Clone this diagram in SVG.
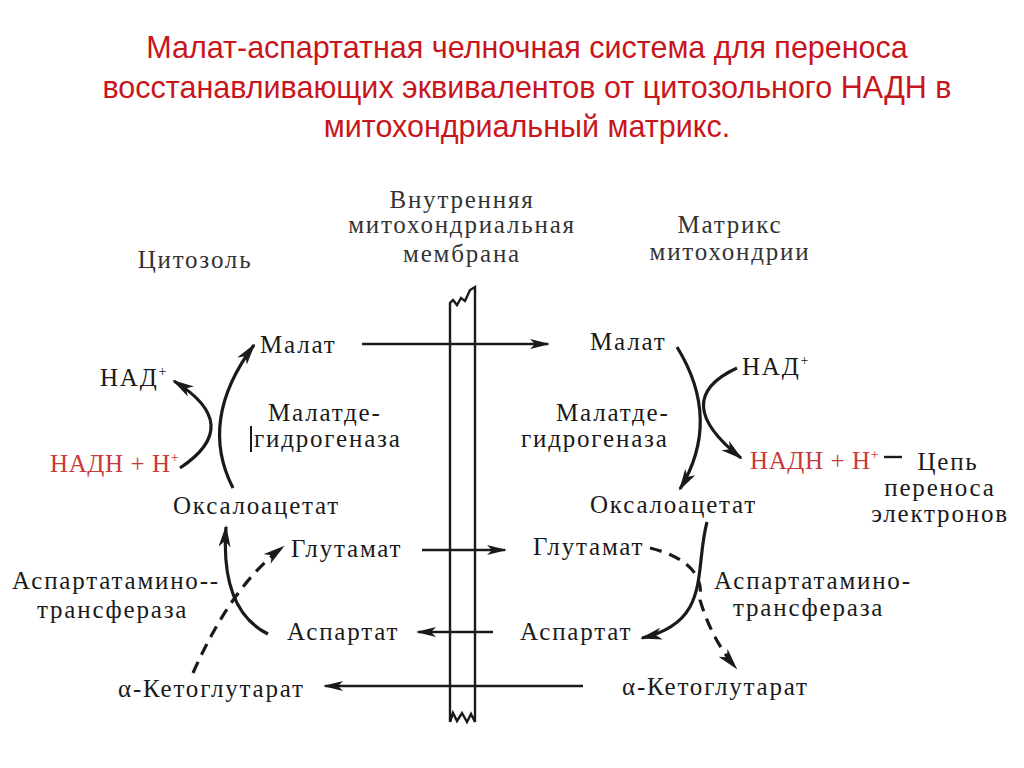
<svg xmlns="http://www.w3.org/2000/svg" width="1024" height="768" viewBox="0 0 1024 768">
<defs>
<style>
.title{font-family:"Liberation Sans",Arial,sans-serif;font-size:30.5px;fill:#c8161d;text-anchor:middle}
.t{font-family:"Liberation Serif","Times New Roman",serif;font-size:25px;letter-spacing:1.8px;fill:#1a1a1a}
.h{fill:#333333}
.red{fill:#c83a3a;letter-spacing:0.6px}
.ln{fill:none;stroke:#1a1a1a;stroke-width:2.4}
.cv{fill:none;stroke:#1a1a1a;stroke-width:3.2}
.dash{stroke-dasharray:12 8}
.mem{fill:none;stroke:#1a1a1a;stroke-width:2.4;stroke-linejoin:miter}
</style>
<marker id="ah" viewBox="0 0 20 10" refX="18" refY="5" markerWidth="20" markerHeight="10" markerUnits="userSpaceOnUse" orient="auto">
<path d="M0,0 L20,5 L0,10 L5,5 Z" fill="#1a1a1a"/>
</marker>
<marker id="ah2" viewBox="0 0 22 12" refX="20" refY="6" markerWidth="22" markerHeight="12" markerUnits="userSpaceOnUse" orient="auto">
<path d="M0,0 L22,6 L0,12 L6,6 Z" fill="#1a1a1a"/>
</marker>
</defs>
<rect width="1024" height="768" fill="#ffffff"/>
<g id="title">
<text class="title" x="527" y="58">Малат-аспартатная челночная система для переноса</text>
<text class="title" x="527" y="98">восстанавливающих эквивалентов от цитозольного НАДН в</text>
<text class="title" x="527" y="137">митохондриальный матрикс.</text>
</g>
<g id="headers">
<text class="t h" x="195" y="268" text-anchor="middle">Цитозоль</text>
<text class="t h" x="462" y="208" text-anchor="middle">Внутренняя</text>
<text class="t h" x="462" y="233" text-anchor="middle">митохондриальная</text>
<text class="t h" x="462" y="262" text-anchor="middle">мембрана</text>
<text class="t h" x="730" y="233" text-anchor="middle">Матрикс</text>
<text class="t h" x="730" y="260" text-anchor="middle">митохондрии</text>
</g>
<g id="membrane">
<path class="mem" d="M450,722 L450,303 L453,300 L457,305 L461,298 L465,301 L470,290 L475,287 L475,722 L471,714 L467,722 L462,713 L457,721 L453,713 L450,722"/>
</g>
<g id="connectors">
<line class="ln" x1="362" y1="344" x2="548" y2="344" marker-end="url(#ah)"/>
<line class="ln" x1="422" y1="550" x2="505" y2="550" marker-end="url(#ah)"/>
<line class="ln" x1="493" y1="632" x2="418" y2="632" marker-end="url(#ah)"/>
<line class="ln" x1="583" y1="686" x2="325" y2="686" marker-end="url(#ah)"/>
<path class="cv" d="M233,488 Q198,420 254,345" marker-end="url(#ah2)"/>
<path class="cv" d="M180,468 Q245,425 174,381" marker-end="url(#ah2)"/>
<path class="cv" d="M677,347 Q722,420 680,489" marker-end="url(#ah2)"/>
<path class="cv" d="M737,368 Q668,400 741,458" marker-end="url(#ah2)"/>
<line class="ln" x1="884" y1="457" x2="902" y2="457"/>
<path class="cv" d="M268,634 Q220,610 226,527" marker-end="url(#ah2)"/>
<path class="cv dash" d="M193,673 Q232,585 283,547" marker-end="url(#ah2)"/>
<path class="cv" d="M707,522 C694,570 712,622 642,638" marker-end="url(#ah2)"/>
<path class="cv dash" d="M650,548 Q706,562 700,600 Q712,640 736,668" marker-end="url(#ah2)"/>
<line x1="251" y1="426" x2="251" y2="452" stroke="#1a1a1a" stroke-width="2"/>
</g>
<g id="cyto-malat"><text class="t" x="260" y="353">Малат</text></g>
<g id="cyto-nad"><text class="t" x="100" y="386">НАД<tspan font-size="14" dy="-10">+</tspan></text></g>
<g id="cyto-nadh"><text class="t red" x="50" y="472">НАДН + Н<tspan font-size="14" dy="-10">+</tspan></text></g>
<g id="cyto-mdh"><text class="t" x="268" y="421">Малатде-</text><text class="t" x="254" y="447">гидрогеназа</text></g>
<g id="cyto-oaa"><text class="t" x="173" y="514">Оксалоацетат</text></g>
<g id="cyto-glu"><text class="t" x="291" y="557">Глутамат</text></g>
<g id="cyto-aat"><text class="t" x="12" y="589">Аспартатамино--</text><text class="t" x="37" y="618">трансфераза</text></g>
<g id="cyto-asp"><text class="t" x="287" y="640">Аспартат</text></g>
<g id="cyto-akg"><text class="t" x="118" y="697">α-Кетоглутарат</text></g>
<g id="mat-malat"><text class="t" x="590" y="350">Малат</text></g>
<g id="mat-nad"><text class="t" x="742" y="375">НАД<tspan font-size="14" dy="-10">+</tspan></text></g>
<g id="mat-mdh"><text class="t" x="556" y="421">Малатде-</text><text class="t" x="521" y="447">гидрогеназа</text></g>
<g id="mat-nadh"><text class="t red" x="750" y="469">НАДН + Н<tspan font-size="14" dy="-10">+</tspan></text></g>
<g id="etc"><text class="t" text-anchor="middle" x="948" y="470">Цепь</text><text class="t" text-anchor="middle" x="940" y="496">переноса</text><text class="t" text-anchor="middle" x="940" y="522">электронов</text></g>
<g id="mat-oaa"><text class="t" x="590" y="513">Оксалоацетат</text></g>
<g id="mat-glu"><text class="t" x="533" y="555">Глутамат</text></g>
<g id="mat-aat"><text class="t" x="714" y="589">Аспартатамино-</text><text class="t" x="733" y="616">трансфераза</text></g>
<g id="mat-asp"><text class="t" x="520" y="640">Аспартат</text></g>
<g id="mat-akg"><text class="t" x="622" y="695">α-Кетоглутарат</text></g>
</svg>
